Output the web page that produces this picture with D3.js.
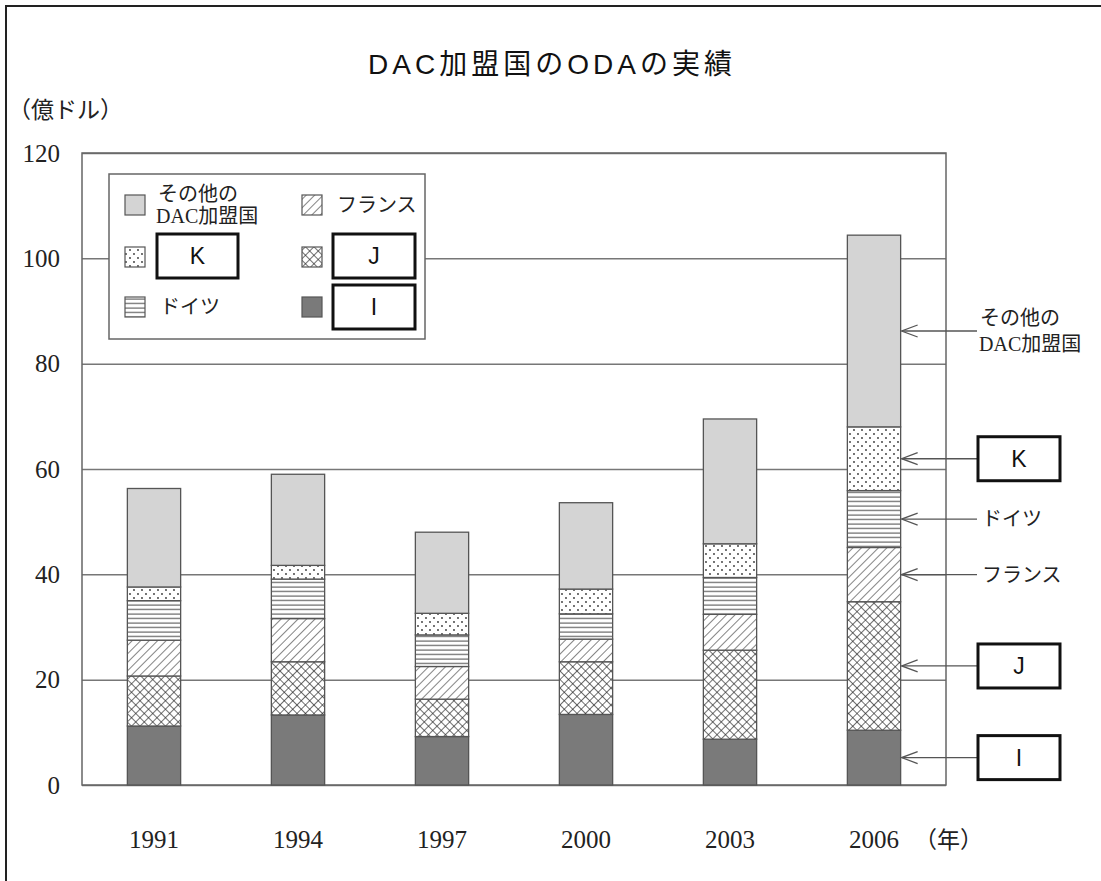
<!DOCTYPE html>
<html>
<head>
<meta charset="utf-8">
<script src="https://cdn.jsdelivr.net/npm/d3@7"></script>
<style>
  body { margin: 0; background: #fff; }
  svg { display: block; }
  .serif { font-family: "Liberation Serif", "Noto Sans CJK JP", serif; fill: #222; }
  .sans { font-family: "Liberation Sans", "Noto Sans CJK JP", sans-serif; fill: #111; }
</style>
</head>
<body>
<svg id="chart" width="1101" height="881"></svg>
<script>
// years on the x axis
var years = ["1991", "1994", "1997", "2000", "2003", "2006"];
// stacked segments, bottom to top (億ドル)
var seriesI = [11.2, 13.3, 9.2, 13.4, 8.7, 10.4];
var seriesJ = [9.5, 10.1, 7.1, 10.0, 16.9, 24.4];
var france = [6.8, 8.2, 6.2, 4.3, 6.8, 10.3];
var germany = [7.5, 7.5, 6.0, 4.8, 7.0, 10.8];
var seriesK = [2.6, 2.6, 4.1, 4.7, 6.4, 12.1];
var otherDAC = [18.7, 17.3, 15.4, 16.4, 23.7, 36.4];
var yTicks = [0, 20, 40, 60, 80, 100, 120];

var keys = ["I", "J", "france", "germany", "K", "other"];
var fills = {
  I: "#7a7a7a",
  J: "url(#cross)",
  france: "url(#diag)",
  germany: "url(#horiz)",
  K: "url(#dots)",
  other: "#d4d4d4"
};
var serifFont = '"Liberation Serif", "Noto Sans CJK JP", serif';

var rows = years.map(function (y, i) {
  return {
    year: y,
    I: seriesI[i],
    J: seriesJ[i],
    france: france[i],
    germany: germany[i],
    K: seriesK[i],
    other: otherDAC[i]
  };
});

var svg = d3.select("#chart");

// patterns
var defs = svg.append("defs");
var pDots = defs.append("pattern").attr("id", "dots").attr("patternUnits", "userSpaceOnUse")
  .attr("width", 8).attr("height", 8);
pDots.append("rect").attr("width", 8).attr("height", 8).attr("fill", "#fff");
pDots.append("circle").attr("cx", 2).attr("cy", 2).attr("r", 0.9).attr("fill", "#333");
pDots.append("circle").attr("cx", 6).attr("cy", 6).attr("r", 0.9).attr("fill", "#333");

var pH = defs.append("pattern").attr("id", "horiz").attr("patternUnits", "userSpaceOnUse")
  .attr("width", 8).attr("height", 4.5);
pH.append("rect").attr("width", 8).attr("height", 4.5).attr("fill", "#fff");
pH.append("line").attr("x1", 0).attr("x2", 8).attr("y1", 2).attr("y2", 2)
  .attr("stroke", "#444").attr("stroke-width", 1);

var pD = defs.append("pattern").attr("id", "diag").attr("patternUnits", "userSpaceOnUse")
  .attr("width", 6).attr("height", 6).attr("patternTransform", "rotate(45)");
pD.append("rect").attr("width", 6).attr("height", 6).attr("fill", "#fff");
pD.append("line").attr("x1", 0).attr("x2", 0).attr("y1", 0).attr("y2", 6)
  .attr("stroke", "#333").attr("stroke-width", 1.2);

var pC = defs.append("pattern").attr("id", "cross").attr("patternUnits", "userSpaceOnUse")
  .attr("width", 6).attr("height", 6).attr("patternTransform", "rotate(45)");
pC.append("rect").attr("width", 6).attr("height", 6).attr("fill", "#fff");
pC.append("line").attr("x1", 0).attr("x2", 0).attr("y1", 0).attr("y2", 6)
  .attr("stroke", "#222").attr("stroke-width", 1.3);
pC.append("line").attr("x1", 0).attr("x2", 6).attr("y1", 0).attr("y2", 0)
  .attr("stroke", "#222").attr("stroke-width", 1.3);

// outer frame (only left and top visible)
svg.append("rect").attr("x", 6).attr("y", 6).attr("width", 1200).attr("height", 1000)
  .attr("fill", "none").attr("stroke", "#222").attr("stroke-width", 2);

// plot area
var plotL = 82, plotR = 946, plotT = 153, plotB = 785;

var x = d3.scaleBand().domain(years).range([plotL, plotR])
  .paddingInner(0.63).paddingOuter(0.315);
var y = d3.scaleLinear().domain([0, 120]).range([plotB, plotT]);

// title
svg.append("text").attr("class", "sans").attr("x", 552).attr("y", 74)
  .attr("text-anchor", "middle").style("font-size", "28px").style("letter-spacing", "4px")
  .text("DAC加盟国のODAの実績");

svg.append("text").attr("class", "serif").attr("x", 8).attr("y", 118)
  .style("font-size", "23px").text("（億ドル）");

// y axis with gridlines
var yAxis = svg.append("g").attr("transform", "translate(" + plotL + ",0)")
  .call(d3.axisLeft(y).tickValues(yTicks).tickSize(-(plotR - plotL)).tickPadding(22))
  .attr("font-family", serifFont).attr("font-size", 25);
yAxis.select(".domain").remove();
yAxis.selectAll(".tick line").attr("stroke", "#777").attr("stroke-width", 1.5);
yAxis.selectAll(".tick text").attr("fill", "#222").style("font-family", serifFont);

// plot border
svg.append("rect").attr("x", plotL).attr("y", plotT).attr("width", plotR - plotL)
  .attr("height", plotB - plotT).attr("fill", "none").attr("stroke", "#666").attr("stroke-width", 1.5);

// x axis
var xAxis = svg.append("g").attr("transform", "translate(0," + plotB + ")")
  .call(d3.axisBottom(x).tickSize(0).tickPadding(45))
  .attr("font-family", serifFont).attr("font-size", 25);
xAxis.select(".domain").remove();
xAxis.selectAll(".tick text").attr("fill", "#222").style("font-family", serifFont);

svg.append("text").attr("class", "serif").attr("x", 914).attr("y", 848)
  .style("font-size", "23px").text("（年）");

// stacked bars
var stacked = d3.stack().keys(keys)(rows);

svg.append("g").selectAll("g")
  .data(stacked)
  .join("g")
  .attr("fill", function (d) { return fills[d.key]; })
  .selectAll("rect")
  .data(function (d) { return d; })
  .join("rect")
  .attr("x", function (d) { return x(d.data.year); })
  .attr("width", x.bandwidth())
  .attr("y", function (d) { return y(d[1]); })
  .attr("height", function (d) { return y(d[0]) - y(d[1]); })
  .attr("stroke", "#555")
  .attr("stroke-width", 1.3);

// boxed label helper
function boxLabel(g, bx, by, w, h, txt) {
  g.append("rect").attr("x", bx).attr("y", by).attr("width", w).attr("height", h)
    .attr("fill", "#fff").attr("stroke", "#111").attr("stroke-width", 3);
  g.append("text").attr("class", "sans").attr("x", bx + w / 2).attr("y", by + h / 2 + 8)
    .attr("text-anchor", "middle").style("font-size", "23px").text(txt);
}

// legend
var lg = svg.append("g");
lg.append("rect").attr("x", 109).attr("y", 174).attr("width", 316).attr("height", 165)
  .attr("fill", "#fff").attr("stroke", "#666").attr("stroke-width", 1.5);

var legendItems = [
  { key: "other", sx: 125, sy: 195 },
  { key: "france", sx: 302, sy: 195 },
  { key: "K", sx: 125, sy: 247 },
  { key: "J", sx: 302, sy: 247 },
  { key: "germany", sx: 125, sy: 297 },
  { key: "I", sx: 302, sy: 297 }
];
lg.selectAll("rect.sw").data(legendItems).join("rect").attr("class", "sw")
  .attr("x", function (d) { return d.sx; }).attr("y", function (d) { return d.sy; })
  .attr("width", 20).attr("height", 20)
  .attr("fill", function (d) { return fills[d.key]; })
  .attr("stroke", "#555").attr("stroke-width", 1.2);

lg.append("text").attr("class", "serif").attr("x", 158).attr("y", 201)
  .style("font-size", "20px").text("その他の");
lg.append("text").attr("class", "serif").attr("x", 156).attr("y", 223)
  .style("font-size", "20px").text("DAC加盟国");
lg.append("text").attr("class", "serif").attr("x", 337).attr("y", 212)
  .style("font-size", "20px").text("フランス");
lg.append("text").attr("class", "serif").attr("x", 160).attr("y", 314)
  .style("font-size", "20px").text("ドイツ");
boxLabel(lg, 157, 234, 81, 44, "K");
boxLabel(lg, 333, 234, 82, 44, "J");
boxLabel(lg, 333, 285, 82, 44, "I");

// annotations on the last bar
var last = years[years.length - 1];
var barRight = x(last) + x.bandwidth();
var ann = svg.append("g");
stacked.forEach(function (s) {
  var seg = s[s.length - 1];
  var ay = y((seg[0] + seg[1]) / 2);
  ann.append("line").attr("x1", barRight + 1).attr("x2", 977).attr("y1", ay).attr("y2", ay)
    .attr("stroke", "#555").attr("stroke-width", 1.3);
  ann.append("path")
    .attr("d", "M" + (barRight + 17) + "," + (ay - 6) + "L" + (barRight + 1) + "," + ay + "L" + (barRight + 17) + "," + (ay + 6))
    .attr("fill", "none").attr("stroke", "#555").attr("stroke-width", 1.3);
  if (s.key === "other") {
    ann.append("text").attr("class", "serif").attr("x", 980).attr("y", ay - 6)
      .style("font-size", "20px").text("その他の");
    ann.append("text").attr("class", "serif").attr("x", 979).attr("y", ay + 20)
      .style("font-size", "20px").text("DAC加盟国");
  } else if (s.key === "germany") {
    ann.append("text").attr("class", "serif").attr("x", 982).attr("y", ay + 7)
      .style("font-size", "20px").text("ドイツ");
  } else if (s.key === "france") {
    ann.append("text").attr("class", "serif").attr("x", 982).attr("y", ay + 7)
      .style("font-size", "20px").text("フランス");
  } else {
    boxLabel(ann, 978, ay - 22, 82, 44, s.key);
  }
});
</script>
</body>
</html>
